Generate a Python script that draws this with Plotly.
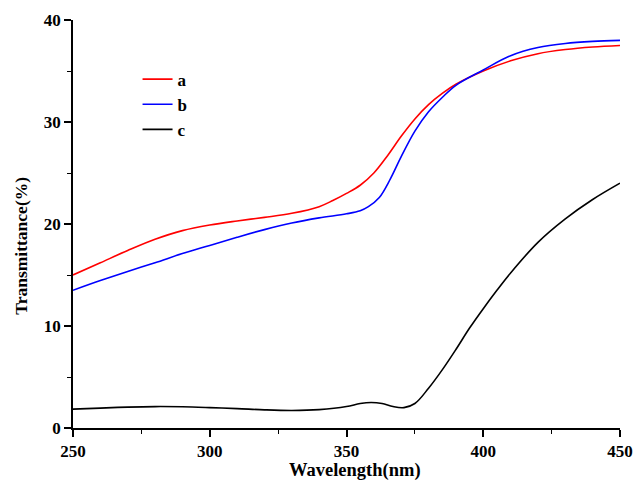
import plotly.graph_objects as go

# Series a (red)
a_x = [250, 260, 270, 280, 290, 300, 310, 320, 330, 340, 345, 350, 355, 360, 365, 370, 375, 380, 385, 390, 400, 410, 420, 430, 440, 450]
a_y = [15.0, 16.2, 17.4, 18.5, 19.35, 19.9, 20.3, 20.65, 21.05, 21.7, 22.3, 23.0, 23.8, 25.0, 26.7, 28.6, 30.3, 31.7, 32.8, 33.7, 35.0, 36.0, 36.7, 37.1, 37.35, 37.5]

# Series b (blue)
b_x = [250, 260, 270, 280, 290, 300, 310, 320, 330, 340, 350, 355, 358, 362, 366, 370, 375, 380, 385, 390, 400, 410, 420, 430, 440, 450]
b_y = [13.5, 14.45, 15.35, 16.2, 17.1, 17.9, 18.7, 19.45, 20.1, 20.6, 21.0, 21.3, 21.7, 22.6, 24.4, 26.6, 29.1, 31.0, 32.4, 33.6, 35.1, 36.5, 37.3, 37.7, 37.9, 38.0]

# Series c (black)
c_x = [250, 260, 270, 280, 290, 300, 310, 320, 330, 340, 350, 355, 359, 363, 367, 371, 375, 380, 385, 390, 395, 400, 405, 410, 420, 430, 440, 450]
c_y = [1.85, 1.95, 2.05, 2.1, 2.08, 2.0, 1.9, 1.78, 1.72, 1.8, 2.1, 2.4, 2.5, 2.4, 2.1, 2.0, 2.4, 3.9, 5.7, 7.7, 9.8, 11.7, 13.5, 15.2, 18.2, 20.5, 22.4, 24.0]

x_ticks = [250, 300, 350, 400, 450]
y_ticks = [0, 10, 20, 30, 40]
x_title = "Wavelength(nm)"
y_title = "Transmittance(%)"

FONT = "Liberation Serif, Times New Roman, serif"

fig = go.Figure()
for name, xs, ys, col in [("a", a_x, a_y, "#ff0000"), ("b", b_x, b_y, "#0000ff"), ("c", c_x, c_y, "#000000")]:
    fig.add_trace(go.Scatter(x=xs, y=ys, name=name, mode="lines",
                             line=dict(color=col, width=1.6, shape="spline", smoothing=1.0)))

axis_common = dict(showline=True, linecolor="black", linewidth=1.6, ticks="outside",
                   ticklen=7, tickwidth=1.6, tickcolor="black", showgrid=False, zeroline=False,
                   mirror=False, automargin=False,
                   tickfont=dict(family=FONT, size=17, color="black", weight="bold"))

fig.update_xaxes(range=[250, 450], tickvals=x_ticks, ticktext=[str(v) for v in x_ticks],
                 minor=dict(dtick=25, tick0=250, ticks="outside", ticklen=4, tickwidth=1.4, tickcolor="black"),
                 **axis_common)
fig.update_yaxes(range=[0, 40], tickvals=y_ticks, ticktext=[str(v) for v in y_ticks],
                 minor=dict(dtick=5, tick0=0, ticks="outside", ticklen=4, tickwidth=1.4, tickcolor="black"),
                 **axis_common)

fig.add_annotation(text=x_title, xref="paper", yref="paper", x=0.5155, y=-0.1348,
                   xanchor="center", yanchor="bottom", showarrow=False,
                   font=dict(family=FONT, size=18.5, color="black", weight="bold"))
fig.add_annotation(text=y_title, xref="paper", yref="paper", x=-0.095, y=0.447,
                   xanchor="center", yanchor="middle", showarrow=False, textangle=-90,
                   font=dict(family=FONT, size=17.5, color="black", weight="bold"))

fig.update_layout(width=633, height=484, margin=dict(l=73, r=13, t=20, b=56),
                  plot_bgcolor="white", paper_bgcolor="white",
                  legend=dict(x=0.118, y=0.898, xanchor="left", yanchor="top", bgcolor="rgba(0,0,0,0)",
                              font=dict(family=FONT, size=17, color="black", weight="bold"),
                              tracegroupgap=0))

# remove the default 8px page margin so the figure fills the window exactly
fig.write_html("out.html", config={"displayModeBar": False},
               post_script="document.body.style.margin='0';document.body.style.overflow='hidden';")
